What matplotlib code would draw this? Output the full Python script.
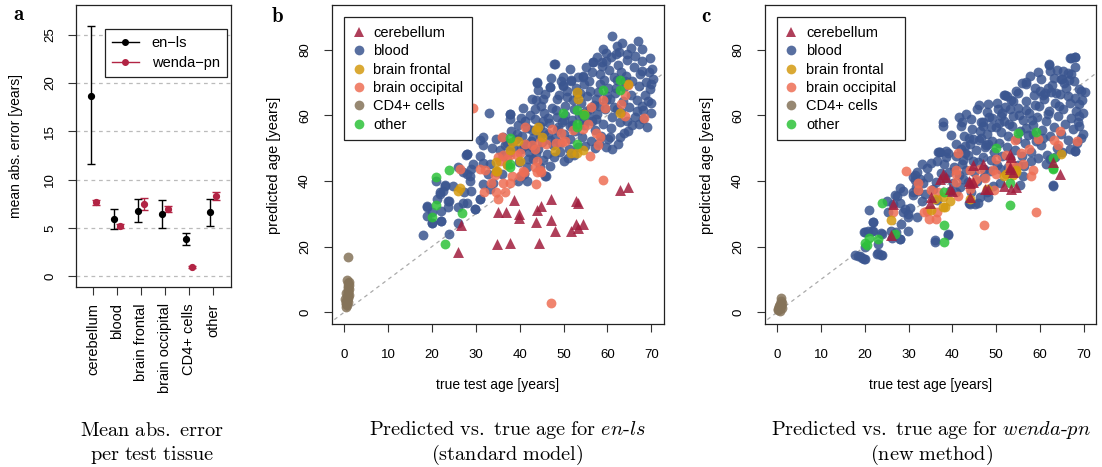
import numpy as np
import matplotlib
matplotlib.use("Agg")
import matplotlib.pyplot as plt
from matplotlib.lines import Line2D

plt.rcParams['font.family'] = ['Liberation Sans', 'DejaVu Sans']
plt.rcParams['mathtext.fontset'] = 'cm'

# ---------------- panel a: mean abs. error per tissue ----------------
tissues = ["cerebellum", "blood", "brain frontal", "brain occipital", "CD4+ cells", "other"]
enls_mae = [18.7, 5.93, 6.75, 6.47, 3.82, 6.62]
enls_lo = [11.6, 4.92, 5.58, 5.0, 3.2, 5.2]
enls_hi = [25.9, 6.93, 7.96, 7.92, 4.44, 8.03]
wenda_mae = [7.65, 5.17, 7.48, 6.96, 0.96, 8.34]
wenda_lo = [7.37, 4.95, 6.86, 6.62, 0.9, 7.92]
wenda_hi = [7.9, 5.4, 8.1, 7.3, 1.02, 8.69]

# ---------------- panel b: predicted vs true age, en-ls ----------------
b_cerebellum = [(62.9, 37.3), (64.8, 38.2), (38.6, 34.1), (47.1, 34.4), (44.9, 32.4), (44.0, 31.2),
                (52.9, 33.9), (53.4, 33.4), (35.1, 30.5), (36.9, 30.5), (39.8, 30.0), (39.8, 28.8),
                (43.7, 27.5), (47.1, 28.2), (48.0, 24.8), (52.9, 26.8), (54.5, 26.8), (53.4, 25.8),
                (51.7, 24.6), (26.6, 26.5), (34.9, 20.7), (37.9, 21.1), (44.5, 21.1), (25.9, 18.2)]
b_blood = [(17.9, 23.5), (18.9, 29.4), (19.9, 27.1), (19.9, 30.4), (18.9, 32.1), (21.1, 34.5),
           (20.9, 40.0), (22.0, 27.8), (22.0, 30.9), (21.9, 36.0), (23.0, 38.7), (23.9, 23.8),
           (23.9, 33.9), (22.6, 37.0), (23.7, 31.9), (24.9, 38.5), (26.0, 31.9), (26.0, 44.1),
           (27.2, 36.5), (27.9, 42.1), (27.8, 47.9), (28.7, 40.0), (29.0, 37.0), (29.0, 43.6),
           (29.8, 31.4), (30.9, 34.5), (31.7, 39.1), (31.7, 45.6), (30.9, 47.7), (32.8, 42.2),
           (33.2, 45.3), (34.0, 39.5), (34.7, 42.6), (36.3, 47.7), (37.0, 45.1), (37.8, 48.7),
           (39.7, 40.0), (40.9, 42.1), (41.6, 44.1), (43.1, 46.6), (44.6, 44.1), (45.8, 41.6),
           (46.9, 44.6), (50.0, 46.1), (51.1, 47.1), (61.0, 49.7), (61.0, 84.2), (66.9, 82.7),
           (59.1, 80.2), (47.9, 75.6), (43.9, 69.9), (46.9, 68.5), (49.9, 68.8), (51.8, 70.5),
           (54.5, 72.0), (56.8, 76.1), (59.8, 76.6), (62.1, 81.2), (64.4, 78.7), (69.7, 77.6),
           (67.8, 80.1), (70.1, 74.1), (70.5, 71.1), (69.7, 68.0), (32.9, 60.8), (37.8, 60.3),
           (40.8, 62.3), (43.5, 61.8), (45.4, 64.9), (48.4, 64.9), (50.3, 62.9), (53.0, 66.5),
           (56.0, 67.5), (58.3, 69.5), (60.6, 64.9), (62.1, 61.8), (64.4, 58.3), (67.8, 62.9),
           (68.2, 58.8), (27.9, 48.1), (30.9, 52.5), (31.7, 51.0), (33.6, 49.9), (34.7, 52.9),
           (39.3, 54.4), (41.6, 56.0), (42.7, 50.4), (44.6, 53.9), (45.4, 58.3), (48.4, 55.5),
           (51.4, 56.8), (54.5, 57.8), (57.5, 58.8), (60.6, 53.4), (62.9, 53.4), (59.8, 50.4),
           (27.9, 48.3), (29.4, 45.2), (27.1, 42.7), (31.7, 53.4), (37.9, 60.5), (37.8, 59.0),
           (43.9, 70.1), (46.9, 68.6), (48.0, 75.7), (49.9, 71.7), (49.9, 69.1), (51.8, 70.6),
           (56.8, 76.2), (58.7, 76.2), (54.5, 71.7), (22.0, 27.8), (19.9, 27.3), (18.8, 32.4),
           (21.8, 36.5), (22.9, 38.5), (23.7, 34.0), (26.0, 27.3), (29.8, 31.4), (30.9, 34.5),
           (27.9, 33.4), (27.1, 33.4), (28.7, 41.6), (33.2, 37.5), (35.9, 42.1), (41.6, 40.0),
           (46.0, 41.6), (40.4, 41.6),
           (38.4, 50.2), (39.1, 52.7), (40.2, 49.8), (40.6, 53.6), (41.3, 58.2), (42.1, 48.9),
           (42.5, 52.1), (42.9, 55.4), (43.4, 58.9), (43.8, 64.6), (44.2, 49.6), (44.7, 56.8),
           (45.1, 51.9), (45.6, 60.7), (46.2, 48.3), (46.4, 54.2), (46.8, 57.6), (47.3, 62.3),
           (47.6, 50.8), (48.1, 53.1), (48.5, 59.4), (48.9, 66.2), (49.3, 51.6), (49.6, 57.9),
           (50.1, 54.3), (50.4, 60.1), (50.8, 65.7), (51.2, 49.7), (51.5, 52.8), (51.9, 58.6),
           (52.3, 61.9), (52.6, 55.2), (52.9, 68.3), (53.3, 50.4), (53.6, 59.7), (54.0, 63.8),
           (54.3, 53.5), (54.7, 56.9), (55.1, 61.2), (55.4, 65.8), (55.8, 70.4), (56.2, 52.1),
           (56.5, 58.3), (56.9, 63.1), (57.2, 55.6), (57.6, 60.4), (57.9, 67.2), (58.3, 72.6),
           (58.6, 53.8), (59.0, 57.2), (59.4, 61.9), (59.7, 64.7), (60.1, 68.2), (60.4, 73.8),
           (60.8, 56.1), (61.1, 59.6), (61.5, 62.4), (61.8, 66.9), (62.2, 70.7), (62.5, 75.3),
           (62.9, 57.8), (63.2, 60.9), (63.6, 64.2), (63.9, 68.6), (64.3, 72.1), (64.6, 55.2),
           (65.0, 62.6), (65.3, 66.1), (65.7, 70.3), (66.0, 74.6), (66.4, 59.4), (66.7, 64.8),
           (67.1, 68.9), (67.4, 72.7), (67.8, 76.4), (68.1, 61.7), (68.5, 66.3), (68.8, 70.1),
           (69.2, 64.2), (69.5, 73.3), (69.9, 60.6), (52.1, 64.7), (53.8, 66.9), (55.6, 59.8),
           (57.4, 64.9), (59.2, 70.6), (60.9, 77.9), (62.7, 79.4), (64.5, 76.8), (66.2, 78.1),
           (67.9, 73.4), (61.4, 71.8), (63.1, 73.2), (58.8, 75.1), (56.4, 73.3), (54.6, 69.4),
           (50.7, 67.3), (48.3, 61.6), (46.5, 59.3), (44.9, 62.7), (42.4, 60.1), (41.1, 50.7),
           (39.6, 57.1), (38.0, 55.3), (36.6, 50.9), (35.4, 49.3), (36.1, 53.4), (37.2, 51.7),
           (39.8, 45.9), (41.9, 46.8), (43.7, 48.1), (45.3, 46.3), (47.8, 47.2), (49.1, 48.7),
           (52.4, 47.8), (54.9, 50.6), (57.1, 49.9), (58.1, 51.4), (60.2, 52.7), (62.4, 51.1),
           (63.8, 54.6), (65.6, 56.9), (67.3, 57.3), (69.0, 56.4), (70.0, 63.8), (70.0, 69.4),
           (65.4, 80.6), (63.4, 82.1), (61.9, 78.7), (59.6, 79.0), (57.7, 77.8), (55.2, 74.7),
           (53.2, 71.8), (51.4, 74.1), (49.5, 70.3), (47.1, 71.5), (45.7, 66.4), (44.1, 67.6),
           (42.8, 64.9), (40.4, 59.2), (66.8, 61.3), (64.0, 70.5), (62.0, 68.3), (60.0, 66.0),
           (58.0, 62.8), (56.0, 62.0), (54.2, 60.4), (52.0, 57.1), (50.2, 58.5), (48.7, 56.3),
           (47.0, 52.5), (45.5, 55.0), (43.0, 53.0), (41.7, 51.3)]
b_frontal = [(53.0, 67.0), (53.4, 65.0), (54.7, 60.3), (62.9, 60.7), (64.8, 69.4), (44.2, 56.4),
             (43.7, 55.6), (39.7, 52.3), (38.2, 51.8), (37.8, 49.5), (34.7, 45.7), (34.7, 43.0),
             (37.2, 44.7), (40.1, 46.2), (45.0, 53.4), (48.0, 49.1), (51.6, 48.5), (53.0, 48.5),
             (54.5, 49.3), (26.4, 37.7), (26.0, 37.0), (34.9, 43.1)]
b_occipital = [(29.3, 62.3), (58.9, 64.8), (59.4, 62.2), (56.2, 62.5), (63.0, 63.3), (64.0, 66.3),
               (64.8, 69.1), (64.0, 59.7), (68.4, 59.3), (47.3, 55.9), (49.4, 54.6), (52.2, 55.4),
               (54.5, 55.9), (55.6, 57.4), (57.3, 54.6), (58.3, 53.4), (57.9, 50.8), (56.0, 47.5),
               (41.2, 56.4), (41.3, 51.3), (42.7, 50.8), (43.5, 49.8), (44.6, 51.8), (46.1, 51.3),
               (48.3, 51.5), (49.6, 51.8), (50.3, 52.3), (35.9, 53.4), (36.3, 47.8), (37.8, 47.8),
               (39.3, 47.8), (40.1, 48.5), (35.1, 47.3), (35.5, 46.2), (37.0, 46.8), (43.9, 46.2),
               (43.5, 44.2), (44.6, 43.2), (40.7, 43.0), (32.1, 43.4), (31.0, 43.7), (26.5, 43.7),
               (34.4, 41.8), (33.4, 39.5), (36.3, 39.3), (34.7, 36.5), (36.6, 36.5), (35.1, 34.5),
               (31.9, 36.7), (37.9, 39.5), (38.2, 41.6), (40.1, 41.6), (41.0, 42.8), (43.7, 39.2),
               (43.9, 42.8), (44.8, 42.6), (59.0, 40.2), (47.2, 2.75)]
b_cd4 = [(0.9, 16.8), (0.4, 1.6), (0.6, 2.1), (0.3, 2.7), (0.8, 3.0), (0.5, 3.4), (0.2, 3.9),
         (0.9, 4.3), (0.6, 4.8), (1.0, 5.2), (0.3, 5.7), (0.8, 6.1), (0.9, 6.6), (1.0, 7.0),
         (0.8, 7.5), (0.9, 7.9), (1.0, 8.3), (0.9, 8.8), (1.0, 9.3), (0.7, 9.7), (0.5, 2.4),
         (0.7, 3.6), (0.9, 5.0)]
b_other = [(62.9, 70.8), (62.9, 67.6), (58.9, 67.6), (49.9, 60.7), (53.0, 61.7), (54.7, 60.0),
           (53.0, 57.4), (53.0, 56.4), (53.0, 51.1), (37.9, 53.1), (37.9, 45.2), (37.9, 44.2),
           (23.9, 43.2), (20.9, 41.1), (20.9, 32.6), (19.9, 29.1), (26.9, 30.1), (22.9, 20.7)]

# ---------------- panel c: predicted vs true age, wenda-pn ----------------
c_cerebellum = [(53.5, 47.3), (44.6, 45.0), (47.0, 45.2), (53.1, 44.2), (63.0, 45.7), (64.6, 42.2),
                (26.5, 32.9), (26.0, 23.6), (34.9, 33.4), (35.1, 35.0), (37.1, 40.6), (38.6, 41.1),
                (39.8, 37.0), (44.0, 39.5), (44.7, 39.7), (44.1, 35.0), (47.4, 37.5), (48.1, 37.5),
                (51.7, 38.5), (53.5, 37.5), (54.6, 38.0), (53.1, 43.6), (53.8, 42.8), (39.4, 37.5),
                (43.7, 40.0), (37.9, 42.1), (53.1, 48.1)]
c_blood = [(17.8, 17.4), (18.5, 17.0), (19.3, 16.6), (19.8, 16.1), (20.0, 19.9), (21.0, 31.2),
           (19.8, 24.3), (20.8, 24.8), (21.9, 24.8), (21.9, 27.6), (23.1, 20.9), (22.7, 17.8),
           (23.8, 17.3), (23.8, 24.0), (25.4, 30.6), (25.9, 24.8), (26.1, 22.7), (27.2, 24.5),
           (28.0, 22.2), (28.2, 26.8), (26.5, 32.9), (26.9, 35.7), (28.0, 37.8), (28.8, 30.6),
           (29.9, 29.1), (30.3, 31.6), (31.1, 35.7), (31.4, 40.3), (31.9, 42.8), (31.4, 41.8),
           (32.2, 36.8), (33.3, 39.3), (34.1, 43.9), (35.0, 45.5), (37.1, 48.7), (39.0, 48.4),
           (36.4, 34.2), (36.0, 21.9), (38.9, 23.9), (39.4, 37.0), (40.9, 36.5), (42.4, 40.6),
           (43.9, 33.4), (45.1, 32.9), (46.2, 35.0), (47.8, 36.5), (49.3, 38.5), (50.8, 39.5),
           (44.7, 46.1), (62.9, 38.5), (68.0, 49.2), (62.2, 46.6), (62.0, 75.3), (66.9, 77.6),
           (67.9, 77.9), (67.9, 74.6), (67.1, 72.6), (64.8, 71.1), (65.2, 73.6), (56.9, 69.5),
           (55.0, 66.9), (52.0, 66.2), (46.0, 63.1), (48.1, 63.4), (50.4, 61.8), (53.8, 64.4),
           (59.9, 67.4), (61.8, 68.4), (63.7, 66.9), (69.4, 67.4), (69.8, 60.8), (69.0, 56.8),
           (67.9, 49.2), (37.9, 56.8), (41.9, 56.8), (47.0, 56.8), (48.9, 56.3), (43.9, 53.2),
           (46.6, 53.2), (47.4, 50.2), (40.9, 51.2), (38.6, 49.2), (36.8, 48.7), (42.8, 50.7),
           (51.0, 59.8), (53.1, 61.8), (21.9, 27.5), (20.0, 24.5), (21.6, 24.8), (24.0, 23.8),
           (23.1, 18.0), (24.0, 17.5), (18.9, 17.0), (20.0, 16.2), (25.0, 34.0), (27.3, 35.5),
           (28.0, 33.4), (28.8, 37.0), (29.2, 31.4), (29.9, 29.9), (29.9, 24.8), (28.0, 22.3),
           (31.1, 36.5), (31.8, 38.0), (33.0, 34.0), (32.0, 28.9), (31.1, 41.1), (32.6, 40.6),
           (36.0, 21.4), (39.0, 23.5), (44.0, 32.9), (45.9, 33.4), (48.1, 35.0), (44.3, 36.5),
           (63.0, 38.7), (56.1, 41.6), (55.4, 38.7), (62.0, 75.5), (67.1, 77.6), (68.1, 77.8),
           (65.0, 71.1), (66.7, 70.6), (69.0, 68.1), (51.9, 66.3), (37.9, 57.9), (42.1, 57.9),
           (37.0, 48.8), (33.0, 45.2), (36.4, 46.2), (38.6, 47.3), (42.4, 46.5), (47.0, 57.9),
           (56.9, 70.1), (58.8, 68.3), (60.7, 66.1), (62.6, 67.1), (70.2, 67.1),
           (40.3, 44.2), (40.8, 47.6), (41.4, 41.9), (41.9, 49.8), (42.3, 45.1), (42.7, 53.6),
           (43.2, 43.4), (43.6, 47.9), (44.1, 51.2), (44.5, 55.7), (45.0, 42.8), (45.3, 49.4),
           (45.8, 45.9), (46.1, 52.6), (46.5, 58.1), (46.9, 47.3), (47.3, 43.7), (47.6, 50.9),
           (48.0, 54.2), (48.4, 59.6), (48.8, 46.4), (49.1, 52.3), (49.5, 48.9), (49.9, 56.4),
           (50.3, 44.8), (50.6, 51.7), (51.0, 54.9), (51.4, 47.5), (51.7, 58.3), (52.1, 62.4),
           (52.5, 50.2), (52.8, 53.6), (53.2, 46.9), (53.6, 56.8), (53.9, 59.9), (54.3, 49.3),
           (54.7, 52.8), (55.0, 62.1), (55.4, 55.3), (55.8, 47.6), (56.1, 58.7), (56.5, 51.4),
           (56.9, 64.3), (57.2, 54.1), (57.6, 60.8), (58.0, 48.7), (58.3, 56.9), (58.7, 66.2),
           (59.1, 52.3), (59.4, 59.4), (59.8, 62.7), (60.2, 50.8), (60.5, 55.6), (60.9, 64.9),
           (61.3, 58.2), (61.6, 47.9), (62.0, 61.3), (62.4, 53.7), (62.7, 69.1), (63.1, 56.4),
           (63.5, 63.8), (63.8, 50.1), (64.2, 59.7), (64.6, 66.5), (64.9, 54.2), (65.3, 61.9),
           (65.7, 57.3), (66.0, 68.4), (66.4, 52.6), (66.8, 63.7), (67.1, 59.1), (67.5, 55.8),
           (67.9, 65.2), (68.2, 61.4), (68.6, 57.9), (69.0, 63.3), (69.3, 53.1), (69.7, 64.6),
           (45.6, 61.8), (47.8, 61.1), (50.2, 63.7), (52.4, 65.9), (54.6, 67.4), (56.7, 61.6),
           (58.9, 63.2), (61.1, 66.8), (63.3, 71.4), (65.5, 69.8), (64.0, 73.9), (60.3, 71.2),
           (57.8, 71.9), (55.9, 69.8), (53.5, 64.6), (51.3, 60.6), (49.0, 59.1), (44.2, 58.9),
           (43.0, 60.5), (41.5, 59.4), (39.7, 53.9), (39.2, 42.7), (38.1, 45.2), (37.4, 42.3),
           (36.2, 39.8), (35.6, 37.4), (34.4, 41.2), (33.7, 36.1), (38.4, 40.9), (40.1, 39.3),
           (41.7, 38.1), (43.5, 39.8), (45.7, 40.1), (47.2, 41.3), (48.6, 42.9), (50.9, 43.5),
           (52.7, 44.1), (54.9, 45.0), (56.3, 44.6), (57.9, 46.2), (59.6, 47.1), (61.4, 45.3),
           (63.5, 47.4), (65.1, 48.9), (66.9, 49.6), (68.4, 51.7), (69.8, 54.3), (67.7, 70.4),
           (66.3, 72.8), (62.3, 73.6), (59.5, 73.1), (58.1, 58.6), (55.2, 60.2), (53.0, 57.3),
           (50.7, 57.6), (48.2, 51.3), (46.3, 55.2), (44.8, 52.9), (42.9, 48.6), (61.8, 60.5),
           (64.4, 62.8), (66.5, 65.9), (68.9, 59.8), (60.7, 53.0), (58.5, 54.4), (56.8, 56.2)]
c_frontal = [(64.7, 48.1), (54.6, 43.2), (52.3, 42.2), (54.6, 42.6), (51.7, 41.4), (37.9, 35.0),
             (39.4, 34.0), (36.0, 34.5), (37.9, 31.9), (35.1, 31.2), (26.0, 28.2), (44.0, 34.5),
             (47.9, 37.5), (53.8, 41.8), (53.5, 42.6), (38.3, 31.9)]
c_occipital = [(29.4, 43.0), (41.3, 48.5), (54.4, 52.5), (59.5, 52.9), (63.1, 52.5), (64.6, 55.1),
               (68.5, 52.1), (64.1, 50.8), (55.7, 48.5), (57.5, 49.8), (52.3, 47.8), (50.0, 46.8),
               (53.1, 45.2), (56.1, 45.2), (54.6, 44.2), (49.3, 43.2), (46.2, 43.7), (44.0, 43.2),
               (40.9, 43.2), (58.4, 43.2), (32.2, 39.3), (32.2, 37.3), (35.2, 37.3),
               (36.7, 36.5), (34.2, 30.9), (34.7, 28.4), (36.2, 28.4), (36.5, 30.4), (33.5, 30.6),
               (26.5, 30.4), (41.2, 35.5), (40.9, 39.7), (40.9, 42.1), (44.0, 37.5), (44.7, 39.5),
               (45.5, 40.6), (47.4, 40.8), (49.4, 37.3), (50.0, 42.1), (58.0, 41.4), (59.0, 30.6),
               (47.2, 26.5), (53.1, 43.6)]
c_cd4 = [(0.2, 0.6), (0.4, 0.9), (0.6, 1.2), (0.3, 1.5), (0.8, 1.8), (0.5, 2.0), (0.9, 2.3),
         (0.7, 2.6), (1.0, 2.9), (0.9, 3.3), (0.8, 4.3), (0.1, 1.0), (0.6, 0.4), (1.0, 1.4)]
c_other = [(55.0, 54.6), (59.0, 54.9), (49.9, 50.1), (63.0, 47.0), (63.0, 44.0), (24.0, 33.2),
           (38.0, 36.7), (38.0, 26.5), (38.0, 21.4), (53.1, 39.3), (53.1, 32.6), (63.0, 43.6),
           (21.0, 22.5), (20.0, 21.0), (23.1, 22.3), (27.0, 23.8), (20.4, 20.4)]

col_cereb = '#A11D3D'
col_blood = '#3B5690'
col_front = '#D49A10'
col_occ = '#EE6E55'
col_cd4 = '#857359'
col_other = '#2EC23A'
col_red = '#B22444'

W, H = 1102, 467
fig = plt.figure(figsize=(W / 100, H / 100), dpi=100)


def px_axes(l, t, r, b):
    return fig.add_axes([l / W, 1 - b / H, (r - l) / W, (b - t) / H])


def ftext(x, y, s, **kw):
    fig.text(x / W, 1 - y / H, s, **kw)


def frame(ax):
    for sp in ax.spines.values():
        sp.set_linewidth(0.9)
        sp.set_color('#222222')
    ax.tick_params(direction='out', length=6, width=0.8, labelsize=9.5, color='#333333')


# panel a
ax = px_axes(75.7, 5, 230.7, 286.7)
pos = np.arange(1, len(tissues) + 1)
for g in range(0, 30, 5):
    ax.axhline(g, color='#BBBBBB', lw=0.9, ls=(0, (3, 3)), zorder=0)
ax.errorbar(pos - 0.12, enls_mae,
            yerr=[np.subtract(enls_mae, enls_lo), np.subtract(enls_hi, enls_mae)],
            fmt='o', color='black', ms=4.2, elinewidth=1.0, capsize=2.8, capthick=1.0)
ax.errorbar(pos + 0.12, wenda_mae,
            yerr=[np.subtract(wenda_mae, wenda_lo), np.subtract(wenda_hi, wenda_mae)],
            fmt='o', color=col_red, ms=4.2, elinewidth=1.0, capsize=2.8, capthick=1.0)
ax.set_xlim(0.26, 6.74)
ax.set_ylim(-1.08, 28.08)
ax.set_xticks(pos)
ax.set_xticklabels(tissues, rotation=90)
ax.set_yticks(range(0, 30, 5))
frame(ax)
ax.tick_params(axis='y', labelrotation=90, pad=8)
ax.tick_params(axis='x', pad=6, labelsize=10.5)
for lb in ax.get_yticklabels():
    lb.set_va('center')
handles = [Line2D([], [], color='black', marker='o', ms=4, lw=1.0),
           Line2D([], [], color=col_red, marker='o', ms=4, lw=1.0)]
leg = ax.legend(handles, ['en\u2212ls', 'wenda\u2212pn'], loc='upper left',
                bbox_to_anchor=(0.189, 0.915), borderaxespad=0, fontsize=10.5,
                handlelength=1.8, handletextpad=0.9, labelspacing=0.4,
                borderpad=0.5, fancybox=False, framealpha=1)
leg.get_frame().set_edgecolor('#222222')
leg.get_frame().set_linewidth(0.9)
ftext(16, 146, 'mean abs. error [years]', rotation=90, ha='center', va='center', fontsize=10)


def scatter_panel(ax, cereb, blood, front, occ, cd4, other):
    ax.plot([-5, 95], [-5, 95], color='#AAAAAA', lw=0.9, ls=(0, (3, 3)), zorder=0)
    kw = dict(s=50, alpha=0.85, linewidths=0)
    for pts, c in [(blood, col_blood), (occ, col_occ), (front, col_front),
                   (cd4, col_cd4), (other, col_other)]:
        x, y = np.array(pts).T
        ax.scatter(x, y, color=c, marker='o', **kw)
    x, y = np.array(cereb).T
    ax.scatter(x, y, color=col_cereb, marker='^', s=62, alpha=0.85, linewidths=0)
    ax.set_xlim(-2.8, 72.8)
    ax.set_ylim(-3.6, 93.6)
    ax.set_xticks(range(0, 80, 10))
    ax.set_yticks(range(0, 90, 20))
    frame(ax)
    ax.tick_params(axis='x', pad=12)
    ax.tick_params(axis='y', labelrotation=90, pad=9)
    for lb in ax.get_yticklabels():
        lb.set_va('center')
    names = ['cerebellum', 'blood', 'brain frontal', 'brain occipital', 'CD4+ cells', 'other']
    cols = [col_cereb, col_blood, col_front, col_occ, col_cd4, col_other]
    hs = [Line2D([], [], ls='', marker='^' if i == 0 else 'o', ms=7, color=c, alpha=0.85,
                 markeredgewidth=0) for i, c in enumerate(cols)]
    leg = ax.legend(hs, names, loc='upper left', bbox_to_anchor=(0.036, 0.962),
                    borderaxespad=0, fontsize=10.5, handlelength=0.8, handletextpad=0.6,
                    labelspacing=0.3, borderpad=0.6, fancybox=False, framealpha=1)
    leg.get_frame().set_edgecolor('#222222')
    leg.get_frame().set_linewidth(0.9)


axb = px_axes(332, 5, 663.5, 324)
scatter_panel(axb, b_cerebellum, b_blood, b_frontal, b_occipital, b_cd4, b_other)
axc = px_axes(765, 5, 1096, 324)
scatter_panel(axc, c_cerebellum, c_blood, c_frontal, c_occipital, c_cd4, c_other)

for cx, lx in [(498, 274), (931, 707)]:
    ftext(cx, 385, 'true test age [years]', ha='center', va='center', fontsize=10)
    ftext(lx, 165, 'predicted age [years]', rotation=90, ha='center', va='center', fontsize=10.5)

# panel letters and captions
ftext(19, 15, r'$\mathbf{a}$', ha='center', va='center', fontsize=15)
ftext(277, 17, r'$\mathbf{b}$', ha='center', va='center', fontsize=15)
ftext(706, 17, r'$\mathbf{c}$', ha='center', va='center', fontsize=15)

cap = 14.6
y1, y2 = 430, 455
ftext(152, y1, r'$\mathrm{Mean\ abs.\ error}$', ha='center', va='center', fontsize=cap)
ftext(152, y2, r'$\mathrm{per\ test\ tissue}$', ha='center', va='center', fontsize=cap)
ftext(507, y1, r'$\mathrm{Predicted\ vs.\ true\ age\ for}\ \mathit{en}\text{-}\mathit{ls}$',
      ha='center', va='center', fontsize=cap)
ftext(507, y2, r'$\mathrm{(standard\ model)}$', ha='center', va='center', fontsize=cap)
ftext(931, y1, r'$\mathrm{Predicted\ vs.\ true\ age\ for}\ \mathit{wenda}\text{-}\mathit{pn}$',
      ha='center', va='center', fontsize=cap)
ftext(931, y2, r'$\mathrm{(new\ method)}$', ha='center', va='center', fontsize=cap)

fig.savefig('out.png', dpi=100)
